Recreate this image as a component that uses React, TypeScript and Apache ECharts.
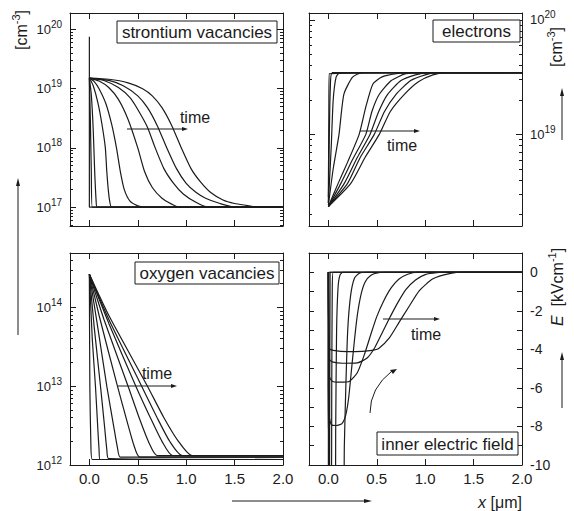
import React, { useEffect, useRef } from "react";
import * as echarts from "echarts";

// ---------------- data (x in µm) ----------------
const X_MIN = -0.2;
const X_MAX = 2.0;
const xTickValues = [0, 0.5, 1.0, 1.5, 2.0];

// strontium vacancies: [x, log10(c / cm^-3)]
const srRange = [16.68, 20.28];
const srDecades = [17, 18, 19, 20];
const sr0 = [[0, 19.88], [0, 17.0], [2.0, 17.0]];
const sr1 = [[0, 19.18], [0.01, 18.5], [0.02, 17.6], [0.03, 17.0], [2.0, 17.0]];
const sr2 = [[0, 19.18], [0.02, 18.9], [0.04, 18.3], [0.055, 17.6], [0.07, 17.1], [0.08, 17.0], [2.0, 17.0]];
const sr3 = [[0, 19.18], [0.04, 19.05], [0.09, 18.75], [0.13, 18.4], [0.165, 18.0], [0.18, 17.6], [0.195, 17.3], [0.21, 17.1], [0.23, 17.0], [2.0, 17.0]];
const sr4 = [[0, 19.18], [0.05, 19.12], [0.1, 19.0], [0.17, 18.75], [0.23, 18.4], [0.28, 18.0], [0.32, 17.6], [0.36, 17.3], [0.42, 17.1], [0.5, 17.02], [0.56, 17.0], [2.0, 17.0]];
const sr5 = [[0, 19.18], [0.1, 19.13], [0.2, 19.02], [0.3, 18.82], [0.4, 18.48], [0.5, 18.0], [0.57, 17.6], [0.65, 17.33], [0.75, 17.15], [0.85, 17.05], [0.92, 17.0], [2.0, 17.0]];
const sr6 = [[0, 19.18], [0.15, 19.14], [0.3, 19.02], [0.42, 18.85], [0.5, 18.65], [0.6, 18.35], [0.68, 18.0], [0.77, 17.65], [0.87, 17.4], [0.97, 17.22], [1.1, 17.08], [1.22, 17.0], [2.0, 17.0]];
const sr7 = [[0, 19.18], [0.2, 19.14], [0.35, 19.05], [0.5, 18.88], [0.6, 18.68], [0.7, 18.38], [0.8, 18.0], [0.9, 17.65], [1.0, 17.4], [1.1, 17.25], [1.2, 17.15], [1.35, 17.06], [1.5, 17.0], [2.0, 17.0]];
const sr8 = [[0, 19.18], [0.2, 19.16], [0.4, 19.1], [0.55, 19.0], [0.65, 18.88], [0.75, 18.68], [0.85, 18.38], [0.95, 18.0], [1.05, 17.65], [1.15, 17.42], [1.25, 17.25], [1.38, 17.12], [1.5, 17.06], [1.62, 17.03], [1.75, 17.0], [2.0, 17.0]];

// electrons: [x, log10(n / cm^-3)]
const elRange = [18.2, 20.06];
const elDecades = [19, 20];
const el0 = [[0, 18.45], [0.005, 19.2], [0.01, 19.53], [2.0, 19.54]];
const el1 = [[0, 18.4], [0.01, 19.0], [0.02, 19.4], [0.04, 19.54], [2.0, 19.54]];
const el2 = [[0, 18.4], [0.03, 18.9], [0.05, 19.3], [0.08, 19.5], [0.12, 19.54], [2.0, 19.54]];
const el3 = [[0, 18.38], [0.05, 18.7], [0.11, 19.0], [0.16, 19.35], [0.25, 19.5], [0.35, 19.54], [2.0, 19.54]];
const el4 = [[0, 18.37], [0.1, 18.57], [0.2, 18.76], [0.318, 19.0], [0.387, 19.24], [0.46, 19.44], [0.55, 19.5], [0.7, 19.53], [0.84, 19.54], [2.0, 19.54]];
const el5 = [[0, 18.37], [0.128, 18.57], [0.25, 18.78], [0.387, 19.0], [0.45, 19.2], [0.526, 19.35], [0.65, 19.47], [0.8, 19.53], [0.95, 19.54], [2.0, 19.54]];
const el6 = [[0, 18.37], [0.163, 18.57], [0.3, 18.8], [0.43, 19.0], [0.52, 19.2], [0.612, 19.35], [0.75, 19.47], [0.9, 19.52], [1.04, 19.54], [2.0, 19.54]];
const el7 = [[0, 18.37], [0.197, 18.57], [0.33, 18.8], [0.474, 19.0], [0.58, 19.2], [0.699, 19.35], [0.85, 19.47], [1.0, 19.52], [1.12, 19.54], [2.0, 19.54]];
const el8 = [[0, 18.37], [0.23, 18.57], [0.38, 18.8], [0.526, 19.0], [0.64, 19.2], [0.785, 19.35], [0.93, 19.46], [1.08, 19.52], [1.22, 19.54], [2.0, 19.54]];

// oxygen vacancies: [x, log10(c / cm^-3)]
const oxRange = [12.0, 14.69];
const oxDecades = [12, 13, 14];
const ox0 = [[0, 14.42], [0.005, 13.0], [0.015, 12.3], [0.03, 12.07], [2.0, 12.07]];
const ox1 = [[0, 14.42], [0.03, 13.6], [0.063, 13.0], [0.09, 12.4], [0.1, 12.2], [0.11, 12.07], [2.0, 12.07]];
const ox2 = [[0, 14.42], [0.05, 13.75], [0.115, 13.0], [0.16, 12.45], [0.18, 12.2], [0.2, 12.08], [2.0, 12.07]];
const ox3 = [[0, 14.42], [0.08, 13.8], [0.18, 13.0], [0.25, 12.5], [0.29, 12.22], [0.32, 12.1], [2.0, 12.1]];
const ox4 = [[0, 14.42], [0.1, 13.9], [0.29, 13.0], [0.39, 12.55], [0.46, 12.25], [0.52, 12.1], [2.0, 12.1]];
const ox5 = [[0, 14.42], [0.15, 13.85], [0.4, 13.0], [0.52, 12.58], [0.62, 12.27], [0.7, 12.12], [2.0, 12.12]];
const ox6 = [[0, 14.42], [0.2, 13.8], [0.48, 13.0], [0.63, 12.6], [0.75, 12.3], [0.86, 12.12], [2.0, 12.12]];
const ox7 = [[0, 14.42], [0.2, 13.85], [0.54, 13.0], [0.7, 12.6], [0.83, 12.3], [0.96, 12.12], [2.0, 12.12]];
const ox8 = [[0, 14.42], [0.2, 13.9], [0.6, 13.0], [0.77, 12.6], [0.92, 12.3], [1.06, 12.12], [2.0, 12.12]];

// inner electric field: [x, E (kV/cm)]
const efRange = [-10, 1];
const ef0 = [[0, -12], [0.005, 0], [2.0, 0]];
const ef1 = [[0, 0], [0.003, -12], [0.012, -12], [0.018, 0], [2.0, 0]];
const ef2 = [[0, 0], [0.005, -12], [0.03, -12], [0.035, -6], [0.04, -1], [0.05, 0], [2.0, 0]];
const ef3 = [[0, 0], [0.005, -12], [0.07, -12], [0.076, -8], [0.085, -3], [0.1, -0.8], [0.12, -0.15], [0.15, 0], [2.0, 0]];
const ef4 = [[0, 0], [0.005, -12], [0.155, -12], [0.165, -9], [0.18, -6], [0.2, -3], [0.23, -1.2], [0.27, -0.3], [0.32, -0.05], [0.4, 0], [2.0, 0]];
const ef5 = [[0, 0], [0.01, -7.5], [0.03, -7.9], [0.08, -7.95], [0.14, -7.85], [0.18, -7.4], [0.21, -6.5], [0.24, -5.0], [0.27, -3.5], [0.3, -2.2], [0.34, -1.1], [0.38, -0.5], [0.44, -0.15], [0.52, -0.02], [0.6, 0], [2.0, 0]];
const ef6 = [[0, 0], [0.01, -5.4], [0.04, -5.65], [0.12, -5.7], [0.22, -5.65], [0.3, -5.2], [0.37, -4.3], [0.44, -3.2], [0.5, -2.3], [0.57, -1.5], [0.65, -0.8], [0.73, -0.35], [0.82, -0.1], [0.92, 0], [2.0, 0]];
const ef7 = [[0, 0], [0.01, -4.5], [0.04, -4.65], [0.15, -4.72], [0.3, -4.7], [0.4, -4.45], [0.48, -3.9], [0.56, -3.1], [0.64, -2.3], [0.72, -1.55], [0.8, -0.9], [0.9, -0.4], [1.0, -0.12], [1.12, -0.02], [1.25, 0], [2.0, 0]];
const ef8 = [[0, 0], [0.01, -3.95], [0.05, -4.05], [0.2, -4.12], [0.35, -4.1], [0.45, -4.05], [0.52, -3.95], [0.63, -3.4], [0.73, -2.6], [0.83, -1.8], [0.94, -0.95], [1.08, -0.34], [1.25, -0.07], [1.4, 0], [2.0, 0]];

const srCurves = [sr0, sr1, sr2, sr3, sr4, sr5, sr6, sr7, sr8];
const elCurves = [el0, el1, el2, el3, el4, el5, el6, el7, el8];
const oxCurves = [ox0, ox1, ox2, ox3, ox4, ox5, ox6, ox7, ox8];
const efCurves = [ef0, ef1, ef2, ef3, ef4, ef5, ef6, ef7, ef8];

// ---------------- styling ----------------
const INK = "#1b1b1b";
const FONT = '"Liberation Sans", Arial, Helvetica, sans-serif';

const grids = [
  { left: 70, top: 13, width: 213, height: 213 },
  { left: 309, top: 13, width: 213, height: 213 },
  { left: 70, top: 253, width: 213, height: 212 },
  { left: 309, top: 253, width: 213, height: 212 },
];

function minorLogs(min: number, max: number) {
  const out: number[] = [];
  for (let n = Math.floor(min); n <= Math.ceil(max); n++) {
    for (let k = 2; k <= 9; k++) {
      const v = n + Math.log10(k);
      if (v > min && v < max) out.push(v);
    }
  }
  return out;
}

function xAxes(g: number, labels: boolean) {
  const base = {
    type: "value",
    gridIndex: g,
    min: X_MIN,
    max: X_MAX,
    splitLine: { show: false },
    axisLine: { show: true, onZero: false, lineStyle: { color: INK, width: 1 } },
    axisTick: { show: true, inside: true, length: 6, customValues: [0, 0.5, 1.0, 1.5], lineStyle: { color: INK } },
  };
  return [
    {
      ...base,
      position: "bottom",
      axisLabel: {
        show: labels,
        customValues: xTickValues,
        formatter: (v: number) => v.toFixed(1),
        margin: 6,
        fontSize: 15,
        fontFamily: FONT,
        color: INK,
      },
    },
    { ...base, position: "top", axisLabel: { show: false } },
  ];
}

const powRich = {
  b: { fontSize: 13, lineHeight: 20, verticalAlign: "middle", fontFamily: FONT, color: INK },
  s: { fontSize: 10, lineHeight: 10, verticalAlign: "top", fontFamily: FONT, color: INK },
};

function logYAxes(g: number, range: number[], decades: number[], labelSide: "left" | "right") {
  const mk = (pos: string, minor: boolean, labels: boolean) => ({
    type: "value",
    gridIndex: g,
    position: pos,
    min: range[0],
    max: range[1],
    splitLine: { show: false },
    axisLine: { show: !minor, onZero: false, lineStyle: { color: INK, width: 1 } },
    axisTick: {
      show: true,
      inside: true,
      length: minor ? 3 : 6,
      customValues: minor ? minorLogs(range[0], range[1]) : decades,
      lineStyle: { color: INK },
    },
    axisLabel: {
      show: labels,
      customValues: decades,
      formatter: (v: number) => `{b|10}{s|${Math.round(v)}}`,
      rich: powRich,
      margin: 8,
    },
  });
  return [
    mk("left", false, labelSide === "left"),
    mk("right", false, labelSide === "right"),
    mk("left", true, false),
    mk("right", true, false),
  ];
}

function fieldYAxes(g: number) {
  const mk = (pos: string, labels: boolean, visible: boolean) => ({
    type: "value",
    gridIndex: g,
    position: pos,
    min: efRange[0],
    max: efRange[1],
    interval: 1,
    splitLine: { show: false },
    axisLine: { show: visible, onZero: false, lineStyle: { color: INK, width: 1 } },
    axisTick: { show: visible, inside: true, length: 5, lineStyle: { color: INK } },
    axisLabel: {
      show: labels,
      formatter: (v: number) => (Math.round(v) % 2 === 0 && v <= 0 ? String(Math.round(v)) : ""),
      margin: 8,
      fontSize: 14,
      fontFamily: FONT,
      color: INK,
    },
  });
  return [mk("left", false, true), mk("right", true, true), mk("left", false, false), mk("right", false, false)];
}

function curveSeries(curves: number[][][], g: number) {
  return curves.map((d) => ({
    type: "line",
    xAxisIndex: 2 * g,
    yAxisIndex: 4 * g,
    data: d,
    symbol: "none",
    showSymbol: false,
    smooth: 0.2,
    clip: true,
    silent: true,
    lineStyle: { color: INK, width: 1.2 },
  }));
}

function arrow(x1: number, y1: number, x2: number, y2: number, head = 6, half = 2, width = 1) {
  const a = Math.atan2(y2 - y1, x2 - x1);
  const bx = x2 - head * Math.cos(a);
  const by = y2 - head * Math.sin(a);
  const px = -Math.sin(a) * half;
  const py = Math.cos(a) * half;
  return [
    { type: "line", shape: { x1, y1, x2: bx, y2: by }, style: { stroke: INK, lineWidth: width }, z: 100 },
    { type: "polygon", shape: { points: [[x2, y2], [bx + px, by + py], [bx - px, by - py]] }, style: { fill: INK }, z: 100 },
  ];
}

function label(text: string, x: number, y: number, size = 17) {
  return {
    type: "text",
    x,
    y,
    z: 101,
    style: { text, fill: INK, font: `${size}px ${FONT}`, align: "center", verticalAlign: "middle", textAlign: "center", textVerticalAlign: "middle" },
  };
}

function box(text: string, x: number, y: number, w: number, h: number) {
  return [
    { type: "rect", shape: { x, y, width: w, height: h }, style: { fill: "#fff", stroke: INK, lineWidth: 1 }, z: 100 },
    label(text, x + w / 2, y + h / 2 + 0.5, 17),
  ];
}

const richUnit = {
  a: { fontSize: 16, fontFamily: FONT, fill: INK, lineHeight: 22, verticalAlign: "middle" },
  i: { fontSize: 16, fontFamily: FONT, fontStyle: "italic", fill: INK, lineHeight: 22, verticalAlign: "middle" },
  s: { fontSize: 11, fontFamily: FONT, fill: INK, lineHeight: 11, verticalAlign: "top" },
};

function rotText(text: string, x: number, y: number) {
  return {
    type: "text",
    x,
    y,
    rotation: Math.PI / 2,
    z: 101,
    style: { text, rich: richUnit, align: "center", verticalAlign: "middle", textAlign: "center", textVerticalAlign: "middle" },
  };
}

export default function App() {
  const ref = useRef<HTMLDivElement>(null);
  useEffect(() => {
    if (!ref.current) return;
    const chart = echarts.init(ref.current, undefined, { renderer: "svg" });
    const curvedArrowHead = (() => {
      const tip = [397, 369];
      return { type: "polygon", shape: { points: [tip, [390, 370], [393, 374]] }, style: { fill: INK }, z: 100 };
    })();
    chart.setOption({
      animation: false,
      backgroundColor: "#fff",
      grid: grids.map((g) => ({ ...g, containLabel: false })),
      xAxis: [...xAxes(0, false), ...xAxes(1, false), ...xAxes(2, true), ...xAxes(3, true)],
      yAxis: [
        ...logYAxes(0, srRange, srDecades, "left"),
        ...logYAxes(1, elRange, elDecades, "right"),
        ...logYAxes(2, oxRange, oxDecades, "left"),
        ...fieldYAxes(3),
      ],
      series: [
        ...curveSeries(srCurves, 0),
        ...curveSeries(elCurves, 1),
        ...curveSeries(oxCurves, 2),
        ...curveSeries(efCurves, 3),
      ],
      graphic: [
        ...box("strontium vacancies", 117, 21, 160, 22),
        ...box("electrons", 433, 20, 87, 22),
        ...box("oxygen vacancies", 135, 262, 144, 22),
        ...box("inner electric field", 377, 432, 141, 23),
        label("time", 195, 117, 16),
        ...arrow(127, 129, 188, 129, 6, 2),
        label("time", 402, 145, 16),
        ...arrow(360, 131, 420, 131, 6, 2),
        label("time", 157, 373, 16),
        ...arrow(118, 386, 177, 386, 6, 2),
        label("time", 426, 334, 16),
        ...arrow(383, 319, 440, 319, 6, 2),
        { type: "bezierCurve", shape: { x1: 370, y1: 413, cpx1: 370, cpy1: 388, x2: 392, y2: 371 }, style: { stroke: INK, lineWidth: 1, fill: "none" }, z: 100 },
        curvedArrowHead,
        rotText("{a|[cm}{s|-3}{a|]}", 21, 30),
        ...arrow(18, 335, 18, 178, 8, 2),
        rotText("{a|[cm}{s|-3}{a|]}", 556, 47),
        ...arrow(562, 140, 562, 88, 8, 2),
        rotText("{i|E}{a|  [kVcm}{s|-1}{a|]}", 557, 287),
        ...arrow(562, 408, 562, 352, 8, 2),
        ...arrow(232, 501, 372, 501, 8, 2),
        {
          type: "text",
          x: 500,
          y: 502,
          z: 101,
          style: { text: "{i|x}{a| [μm]}", rich: richUnit, align: "center", verticalAlign: "middle", textAlign: "center", textVerticalAlign: "middle" },
        },
      ],
    });
    return () => chart.dispose();
  }, []);
  return <div ref={ref} style={{ position: "absolute", left: 0, top: 0, width: 574, height: 511 }} />;
}
